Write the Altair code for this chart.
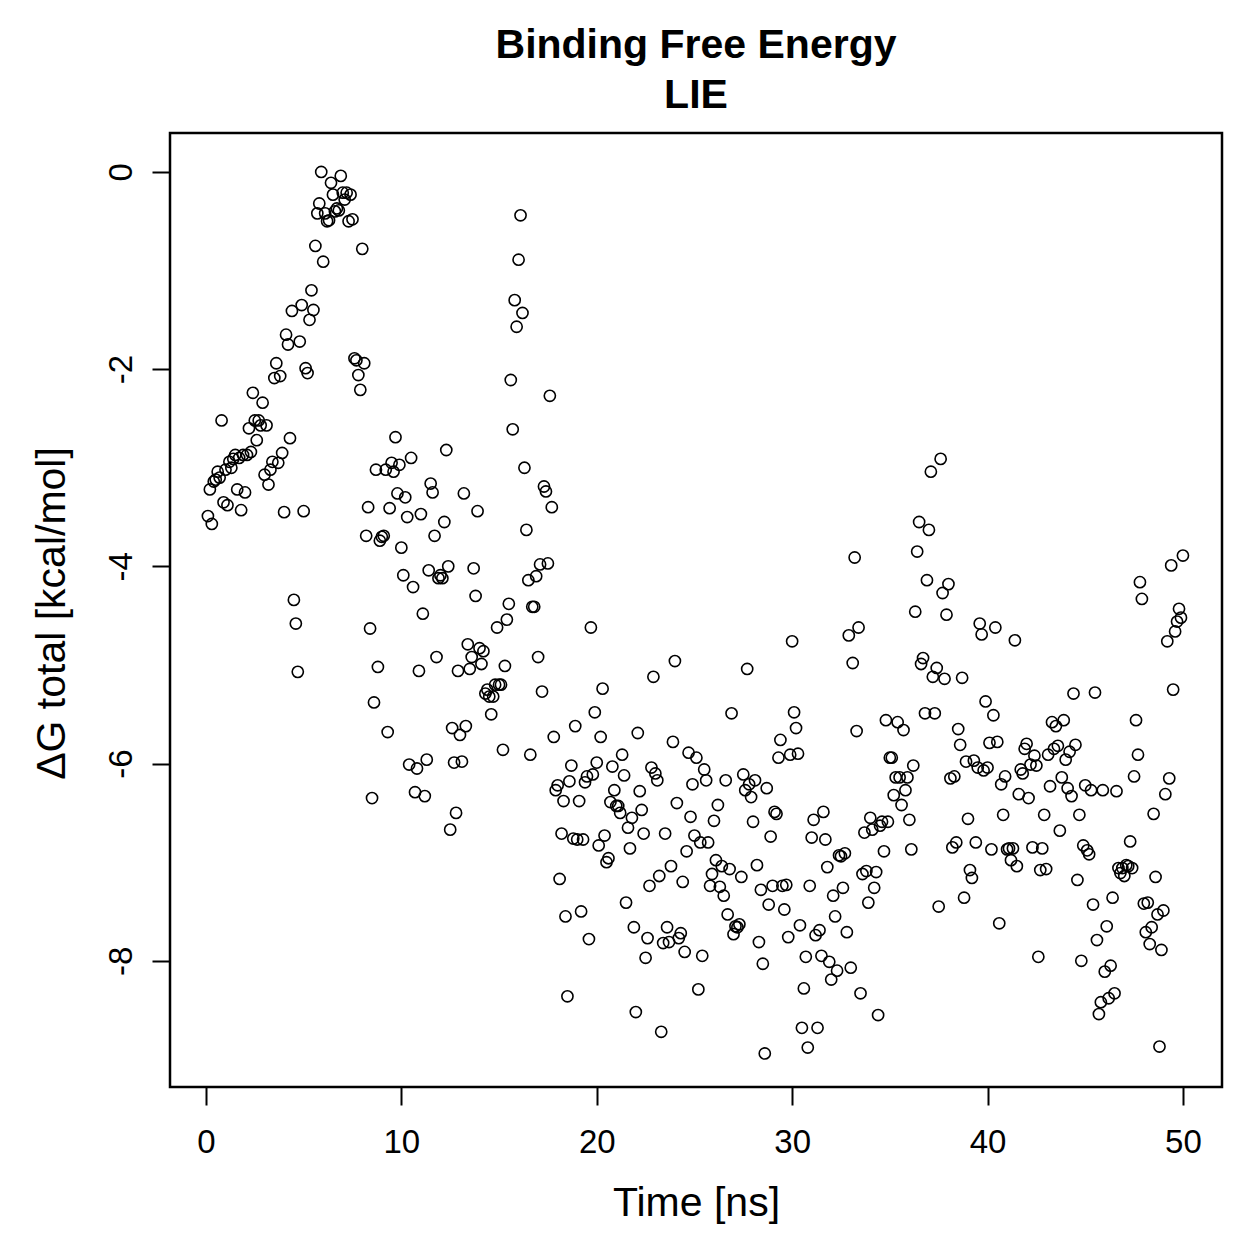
import altair as alt
import pandas as pd

dg_00_05 = [-3.49, -3.22, -3.57, -3.14, -3.12, -3.04, -3.10, -2.52, -3.35, -3.02,
            -3.38, -2.94, -3.00, -2.91, -2.87, -3.22, -2.90, -3.43, -2.87, -3.25,
            -2.87, -2.60, -2.84, -2.24, -2.52, -2.72, -2.52, -2.57, -2.34, -3.07,
            -2.57, -3.17, -3.02, -2.94, -2.09, -1.94, -2.95, -2.07, -2.85, -3.45,
            -1.65, -1.75, -2.70, -1.41, -4.34, -4.58, -5.07, -1.72, -1.35, -3.44]
dg_05_10 = [-1.99, -2.04, -1.50, -1.20, -1.40, -0.75, -0.42, -0.32, 0.00, -0.91,
            -0.42, -0.50, -0.49, -0.11, -0.23, -0.40, -0.37, -0.39, -0.04, -0.21,
            -0.28, -0.21, -0.50, -0.23, -0.48, -1.89, -1.91, -2.06, -2.21, -0.78,
            -1.94, -3.69, -3.40, -4.63, -6.35, -5.38, -3.02, -5.02, -3.74, -3.70,
            -3.69, -3.02, -5.68, -3.41, -2.95, -3.04, -2.69, -3.26, -2.97, -3.81]
dg_10_15 = [-4.09, -3.30, -3.50, -6.01, -2.90, -4.21, -6.29, -6.05, -5.06, -3.47,
            -4.48, -6.33, -5.96, -4.04, -3.16, -3.25, -3.69, -4.92, -4.12, -4.09,
            -4.12, -3.55, -2.82, -4.00, -6.67, -5.64, -5.99, -6.50, -5.06, -5.71,
            -5.98, -3.26, -5.62, -4.79, -5.04, -4.92, -4.02, -4.30, -3.44, -4.83,
            -4.99, -4.86, -5.29, -5.25, -5.32, -5.50, -5.32, -5.20, -4.62, -5.20]
dg_15_20 = [-5.20, -5.86, -5.01, -4.54, -4.38, -2.11, -2.61, -1.30, -1.57, -0.89,
            -0.44, -1.43, -3.00, -3.63, -4.14, -5.91, -4.41, -4.41, -4.10, -4.92,
            -3.98, -5.27, -3.19, -3.24, -3.97, -2.27, -3.40, -5.73, -6.27, -6.22,
            -7.17, -6.71, -6.38, -7.55, -8.36, -6.18, -6.02, -6.76, -5.62, -6.77,
            -6.38, -7.50, -6.77, -6.19, -6.13, -7.78, -4.62, -6.11, -5.48, -5.99]
dg_20_25 = [-6.83, -5.73, -5.24, -6.73, -7.00, -6.96, -6.39, -6.03, -6.27, -6.43,
            -6.43, -6.50, -5.91, -6.12, -7.41, -6.65, -6.86, -6.55, -7.66, -8.52,
            -5.69, -6.28, -6.47, -6.71, -7.97, -7.77, -7.24, -6.04, -5.12, -6.10,
            -6.17, -7.14, -8.72, -7.82, -6.71, -7.66, -7.81, -7.04, -5.78, -4.96,
            -6.40, -7.77, -7.72, -7.20, -7.91, -6.89, -5.89, -6.54, -6.21, -6.73]
dg_25_30 = [-5.94, -8.29, -6.80, -7.95, -6.06, -6.17, -6.80, -7.24, -7.12, -6.58,
            -6.98, -6.42, -7.25, -7.04, -7.34, -6.17, -7.53, -7.07, -5.49, -7.73,
            -7.65, -7.66, -7.63, -7.15, -6.11, -6.27, -5.04, -6.21, -6.34, -6.59,
            -6.17, -7.03, -7.81, -7.28, -8.03, -8.94, -6.25, -7.43, -6.74, -7.24,
            -6.49, -6.51, -5.94, -5.76, -7.24, -7.48, -7.23, -7.76, -5.91, -4.76]
dg_30_35 = [-5.48, -5.64, -5.90, -7.64, -8.68, -8.28, -7.96, -8.88, -7.24, -6.75,
            -6.57, -7.74, -8.68, -7.69, -7.95, -6.49, -6.77, -7.05, -8.01, -8.19,
            -7.34, -7.55, -8.10, -6.93, -6.94, -7.26, -6.91, -7.71, -4.70, -8.07,
            -4.98, -3.91, -5.67, -4.62, -8.33, -7.12, -6.70, -7.09, -7.41, -6.55,
            -6.67, -7.26, -7.10, -8.55, -6.63, -6.59, -6.89, -5.56, -6.59, -5.94]
dg_35_40 = [-5.94, -6.32, -6.14, -5.58, -6.14, -6.42, -5.66, -6.27, -6.14, -6.57,
            -6.87, -6.02, -4.46, -3.85, -3.55, -4.99, -4.93, -5.49, -4.14, -3.63,
            -3.04, -5.12, -5.49, -5.03, -7.45, -2.91, -4.27, -5.14, -4.49, -4.18,
            -6.15, -6.85, -6.13, -6.80, -5.65, -5.81, -5.13, -7.36, -5.98, -6.56,
            -7.08, -7.16, -5.97, -6.80, -6.04, -4.58, -4.69, -6.07, -5.37, -6.04]
dg_40_45 = [-5.79, -6.87, -5.51, -4.62, -5.78, -7.62, -6.21, -6.52, -6.13, -6.87,
            -6.86, -6.98, -6.86, -4.75, -7.04, -6.31, -6.06, -6.10, -5.85, -5.80,
            -6.35, -6.01, -6.85, -5.92, -6.02, -7.96, -7.08, -6.86, -6.52, -7.07,
            -5.91, -6.23, -5.58, -5.85, -5.62, -5.82, -6.68, -6.14, -5.56, -5.96,
            -6.25, -5.88, -6.33, -5.29, -5.81, -7.18, -6.52, -8.00, -6.83, -6.22]
dg_45_50 = [-6.88, -6.92, -6.27, -7.43, -5.28, -7.79, -8.54, -8.42, -6.27, -8.11,
            -7.65, -8.38, -8.05, -7.36, -8.33, -6.28, -7.06, -7.11, -7.06, -7.14,
            -7.03, -7.04, -6.79, -7.06, -6.13, -5.56, -5.91, -4.16, -4.33, -7.42,
            -7.71, -7.41, -7.83, -7.66, -6.51, -7.15, -7.53, -8.87, -7.89, -7.49,
            -6.31, -4.76, -6.15, -3.99, -5.25, -4.66, -4.56, -4.43, -4.52, -3.89]

x_ticks = [0, 10, 20, 30, 40, 50]
y_ticks = [0, -2, -4, -6, -8]

values = (dg_00_05 + dg_05_10 + dg_10_15 + dg_15_20 + dg_20_25 +
          dg_25_30 + dg_30_35 + dg_35_40 + dg_40_45 + dg_45_50)
times = [round(0.1 * (i + 1), 1) for i in range(len(values))]
df = pd.DataFrame({"time": times, "dg": values})

FONT = "Liberation Sans"

chart = alt.Chart(df).mark_point(
    shape="circle", filled=False, color="black", size=125, strokeWidth=1.6, opacity=1
).encode(
    x=alt.X("time:Q",
            scale=alt.Scale(domain=[-1.84, 52.0], nice=False, zero=False),
            axis=alt.Axis(values=x_ticks, title="Time [ns]", grid=False, domain=False,
                          tickColor="black", tickWidth=2, tickSize=18,
                          labelFont=FONT, labelFontSize=33, labelColor="black",
                          labelPadding=21, labelBaseline="top", labelAlign="center",
                          labelExpr="datum.value + ''",
                          titleFont=FONT, titleFontSize=41, titleFontWeight="normal",
                          titleColor="black", titleX=526, titleY=116,
                          titleBaseline="middle", titleAlign="center")),
    y=alt.Y("dg:Q",
            scale=alt.Scale(domain=[-9.28, 0.395], nice=False, zero=False),
            axis=alt.Axis(values=y_ticks, title="ΔG total [kcal/mol]", grid=False, domain=False,
                          tickColor="black", tickWidth=2, tickSize=18,
                          labelFont=FONT, labelFontSize=33, labelColor="black",
                          labelAngle=270, labelAlign="center", labelBaseline="alphabetic",
                          labelPadding=21, labelExpr="datum.value + ''",
                          titleFont=FONT, titleFontSize=41, titleFontWeight="normal",
                          titleColor="black", titleAngle=270, titleX=-118, titleY=480,
                          titleBaseline="middle", titleAlign="center")),
).properties(
    width=1052, height=954,
    title=alt.TitleParams(["Binding Free Energy", "LIE"], font=FONT, fontSize=41,
                          fontWeight="bold", color="black", anchor="middle",
                          lineHeight=50, offset=16),
    autosize=alt.AutoSizeParams(type="none"),
    padding={"left": 170, "top": 133, "right": 37, "bottom": 172},
).configure_view(stroke="black", strokeWidth=2.5)

chart.save("out.html", embed_options={"renderer": "svg", "actions": False})
